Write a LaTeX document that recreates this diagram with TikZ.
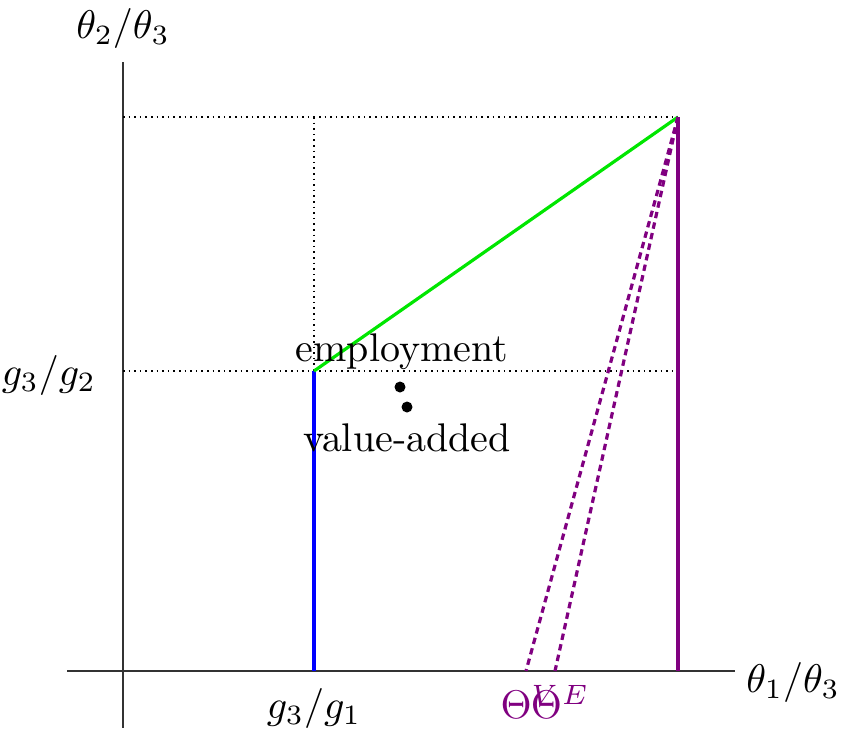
\documentclass[tikz,border=0pt]{standalone}
\usepackage{amssymb,amsmath}
\usepackage{tikz}
\usetikzlibrary{calc}

\definecolor{lgreen}{RGB}{0,230,0}
\definecolor{dpurple}{RGB}{128,0,128}

\begin{document}
\begin{tikzpicture}[x=0.25pt, y=-0.25pt, font=\normalsize]
		\useasboundingbox (0,0) rectangle (844,733);
		% axes
		\draw[black!80] (123,62) -- (123,728);
		\draw[black!80] (67,671) -- (735,671);
		\node (ylab) at (123,28) {$\theta_2/\theta_3$};
		\node (xlab) at (793,682) {$\theta_1/\theta_3$};
		\node[anchor=east] (g32) at (110,375) {$g_3/g_2$};
		\node (g31) at (314,708) {$g_3/g_1$};
		% corner points
		\coordinate (top) at (678,117);
		\coordinate (kink) at (314,371);
		\coordinate (bot) at (678,671);
		% dotted guides
		\draw[densely dotted, thin] (123,117) -- (top);
		\draw[densely dotted, thin] (314,117) -- (kink);
		\draw[densely dotted, thin] (123,371) -- (678,371);
		% frontier
		\draw[blue, line width=1.1pt] (kink) -- (314,671);
		\draw[lgreen, line width=0.8pt] (kink) -- (top);
		\draw[dpurple, line width=0.8pt] (top) -- (bot);
		\draw[dpurple, line width=0.8pt, dash pattern=on 1.6pt off 1.1pt] (top) -- (526,671);
		\draw[dpurple, line width=0.8pt, dash pattern=on 1.6pt off 1.1pt] (top) -- (555,671);
		\node[dpurple] (thv) at (530,702) {$\Theta^V$};
		\node[dpurple] (the) at (560,702) {$\Theta^E$};
		% data points
		\fill (400,387) circle[radius=5.5];
		\fill (407,407) circle[radius=5.5];
		\node (emp) at (402,352) {employment};
		\node (va) at (407,438) {value-added};
	\end{tikzpicture}
\end{document}
